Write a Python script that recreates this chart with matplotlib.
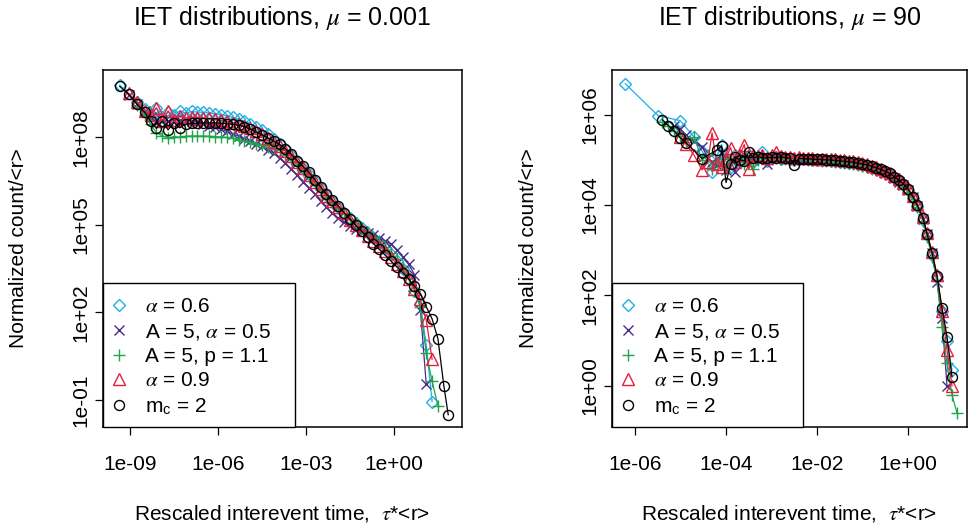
import numpy as np
import matplotlib
matplotlib.use("Agg")
import matplotlib.pyplot as plt
from matplotlib.lines import Line2D
from matplotlib.patches import Rectangle

plt.rcParams['font.family'] = ['Liberation Sans', 'DejaVu Sans']
plt.rcParams['mathtext.fontset'] = 'stix'

# ---- data (log10 of rescaled time and normalized count) ----
# left panel, mu = 0.001
left_x = [-9.35, -9.05, -8.75, -8.5, -8.3, -8.1, -7.9, -7.7, -7.5, -7.3,
          -7.1, -6.9, -6.7, -6.5, -6.3, -6.1, -5.9, -5.7, -5.5, -5.3,
          -5.1, -4.9, -4.7, -4.5, -4.3, -4.1, -3.9, -3.7, -3.5, -3.3,
          -3.1, -2.9, -2.7, -2.5, -2.3, -2.1, -1.9, -1.7, -1.5, -1.3,
          -1.1, -0.9, -0.7, -0.5, -0.3, -0.1, 0.1, 0.3, 0.5, 0.7,
          0.9, 1.1, 1.3, 1.5, 1.7, 1.85]
nan = np.nan
left_alpha06 = [9.78, nan, 9.2, 8.95, 8.8, 9.0, 8.7, 8.85, 8.75, 8.9,
                8.82, 8.88, 8.86, 8.85, 8.83, 8.8, 8.77, 8.73, 8.68, 8.62,
                8.55, 8.46, 8.35, 8.23, 8.1, 7.95, 7.78, 7.6, 7.4, 7.18,
                6.96, 6.74, 6.5, 6.26, 6.03, 5.82, 5.62, 5.42, 5.23, 5.05,
                4.88, 4.72, 4.56, 4.39, 4.2, 4.0, 3.77, 3.5, 3.15, 2.75,
                2.3, 0.9, -1.05, nan, nan, nan]
left_A5_alpha05 = [nan, 9.44, 9.15, 8.9, 8.7, 8.5, 8.6, 8.55, 8.6, 8.58,
                   8.6, 8.57, 8.52, 8.46, 8.4, 8.34, 8.27, 8.2, 8.12, 8.03,
                   7.94, 7.86, 7.78, 7.7, 7.57, 7.45, 7.28, 7.1, 6.9, 6.7,
                   6.48, 6.27, 6.05, 5.8, 5.6, 5.4, 5.22, 5.08, 4.96, 4.86,
                   4.78, 4.72, 4.65, 4.56, 4.46, 4.34, 4.15, 3.9, 3.65, 3.3,
                   2.1, -0.45, nan, nan, nan, nan]
left_A5_p11 = [nan, nan, 9.1, 8.75, 8.45, 8.15, 8.05, 7.98, 8.02, 8.0,
               8.03, 8.04, 8.04, 8.04, 8.03, 8.02, 8.01, 7.99, 7.96, 7.92,
               7.87, 7.82, 7.77, 7.72, 7.66, 7.6, 7.55, 7.4, 7.25, 7.06,
               6.86, 6.65, 6.42, 6.18, 5.96, 5.76, 5.57, 5.39, 5.21, 5.05,
               4.9, 4.75, 4.6, 4.43, 4.25, 4.05, 3.82, 3.54, 3.18, 2.75,
               2.2, 0.6, -0.35, -1.2, nan, nan]
left_alpha09 = [nan, 9.5, 9.2, 8.9, 8.75, 9.0, 8.55, 8.9, 8.6, 8.72,
                8.66, 8.68, 8.67, 8.66, 8.64, 8.61, 8.58, 8.55, 8.5, 8.45,
                8.38, 8.3, 8.2, 8.1, 7.98, 7.85, 7.7, 7.53, 7.35, 7.14,
                6.93, 6.71, 6.47, 6.23, 6.0, 5.8, 5.6, 5.39, 5.18, 4.99,
                4.81, 4.63, 4.46, 4.28, 4.09, 3.89, 3.67, 3.43, 3.15, 2.82,
                2.45, 1.75, 0.4, nan, nan, nan]
left_mc2 = [9.74, 9.48, 9.12, 8.85, 8.55, 8.3, 8.55, 8.25, 8.5, 8.32,
            8.45, 8.47, 8.48, 8.49, 8.49, 8.49, 8.48, 8.46, 8.44, 8.41,
            8.36, 8.28, 8.18, 8.08, 7.98, 7.88, 7.75, 7.6, 7.42, 7.2,
            7.0, 6.8, 6.55, 6.3, 6.05, 5.85, 5.65, 5.42, 5.2, 4.98,
            4.78, 4.57, 4.36, 4.16, 3.96, 3.76, 3.56, 3.36, 3.15, 2.9,
            2.64, 2.2, 1.78, 1.1, -0.5, -1.5]

# right panel, mu = 90
right_x = [-6.22, -5.5, -5.4, -5.27, -5.15, -5.01, -4.88, -4.7, -4.53, -4.4,
           -4.31, -4.2, -4.1, -4.0, -3.9, -3.8, -3.7, -3.6, -3.5,
           -3.4, -3.3, -3.2, -3.1, -3.0, -2.9, -2.8, -2.7, -2.6, -2.5,
           -2.4, -2.3, -2.2, -2.1, -2.0, -1.9, -1.8, -1.7, -1.6, -1.5,
           -1.4, -1.3, -1.2, -1.1, -1.0, -0.9, -0.8, -0.7, -0.6, -0.5,
           -0.4, -0.3, -0.2, -0.1, 0.0,
           0.11, 0.2, 0.33, 0.42, 0.53, 0.64, 0.75, 0.86, 0.97, 1.08]
right_alpha06 = [6.69, 5.98, nan, nan, nan, 5.87, nan, 5.5, 5.2, nan,
                 4.74, 5.1, 5.34, 4.95, 4.85, 5.12, 4.95, 5.05, 5.1,
                 4.95, 5.05, 5.18, 4.98, 5.04, 5.06, 5.03, 5.04, 5.02, 5.0,
                 5.02, 5.02, 5.01, 5.0, 5.0, 4.99, 4.99, 4.98, 4.97, 4.96,
                 4.95, 4.94, 4.93, 4.91, 4.89, 4.87, 4.84, 4.81, 4.77, 4.73,
                 4.68, 4.61, 4.53, 4.45, 4.33,
                 4.16, 3.98, 3.68, 3.33, 2.9, 2.4, 1.65, 1.0, 0.35, nan]
right_A5_alpha05 = [nan, nan, nan, nan, 5.75, 5.68, 5.55, 5.42, 5.29, 5.05,
                    4.95, 4.88, 5.15, 4.78, 5.0, 4.74, 5.05, 4.95, 5.05,
                    5.0, 5.1, 5.02, 4.92, 5.05, 5.04, 5.05, 5.03, 5.03, 5.01,
                    5.02, 5.01, 5.01, 5.0, 5.0, 4.99, 4.99, 4.98, 4.97, 4.96,
                    4.95, 4.94, 4.93, 4.91, 4.89, 4.86, 4.83, 4.8, 4.76, 4.72,
                    4.67, 4.6, 4.52, 4.44, 4.33,
                    4.17, 3.99, 3.7, 3.36, 2.93, 2.3, 1.5, 0.0, nan, nan]
right_A5_p11 = [nan, nan, 5.85, 5.75, 5.63, 5.52, 5.4, 5.5, 5.0, 5.1,
                4.8, 4.95, 5.02, 4.8, 5.05, 4.95, 5.06, 4.9, 5.08,
                4.8, 5.0, 5.05, 5.02, 5.03, 5.04, 5.02, 5.03, 5.01, 5.0,
                5.01, 5.01, 5.0, 4.99, 4.99, 4.98, 4.98, 4.97, 4.96, 4.95,
                4.94, 4.93, 4.91, 4.89, 4.87, 4.84, 4.81, 4.78, 4.74, 4.7,
                4.64, 4.57, 4.49, 4.41, 4.3,
                4.13, 3.95, 3.65, 3.3, 2.86, 2.32, 1.3, 0.5, -0.2, -0.6]
right_alpha09 = [nan, nan, nan, nan, nan, 5.5, 5.35, 5.1, 4.78, 4.95,
                 5.6, 4.9, 4.85, 5.05, 5.27, 4.95, 5.1, 5.34, 4.8,
                 5.1, 5.08, 5.12, 5.05, 5.1, 5.18, 5.08, 5.07, 5.06, 5.05,
                 5.06, 5.05, 5.04, 5.04, 5.03, 5.03, 5.02, 5.02, 5.01, 5.0,
                 4.99, 4.98, 4.97, 4.95, 4.93, 4.9, 4.87, 4.84, 4.8, 4.76,
                 4.71, 4.65, 4.57, 4.49, 4.38,
                 4.21, 4.03, 3.74, 3.39, 2.97, 2.46, 1.65, 0.8, 0.0, nan]
right_mc2 = [nan, nan, 5.89, 5.76, 5.65, 5.49, 5.38, nan, 5.03, nan,
             nan, 5.22, 5.31, 4.5, 4.9, 5.07, 5.0, 4.98, 5.18,
             5.05, 5.07, 5.05, 5.04, 5.06, 5.05, 5.07, 5.05, 5.04, 4.88,
             5.03, 5.03, 5.02, 5.02, 5.01, 5.01, 5.0, 5.0, 4.99, 4.98,
             4.97, 4.96, 4.95, 4.93, 4.91, 4.89, 4.86, 4.83, 4.79, 4.75,
             4.7, 4.63, 4.55, 4.47, 4.36,
             4.19, 4.01, 3.72, 3.37, 2.95, 2.44, 1.73, 1.09, 0.2, nan]

labels = [r"$\alpha$ = 0.6", r"A = 5, $\alpha$ = 0.5", "A = 5, p = 1.1",
          r"$\alpha$ = 0.9", r"m$_\mathregular{c}$ = 2"]
colors = ['#1fb1e6', '#4a2c8c', '#1fa64b', '#e5203b', 'black']
markers = ['D', 'x', '+', '^', 'o']
msizes = [6.0, 7.0, 9.0, 9.0, 7.2]

W, H = 969, 526
fig = plt.figure(figsize=(W / 100, H / 100), dpi=100)


def px_axes(x0, y0, x1, y1):
    return fig.add_axes([x0 / W, 1 - y1 / H, (x1 - x0) / W, (y1 - y0) / H])


def draw_panel(ax, xs, series, xlim, ylim, xticks, yticks, mu, box_w):
    x = np.array(xs)
    for ys, c, m, s in zip(series, colors, markers, msizes):
        y = np.array(ys, dtype=float)
        ok = ~np.isnan(y)
        ax.plot(10 ** x[ok], 10 ** y[ok], color=c, lw=0.9, marker=m, ms=s,
                mfc='none', mec=c, mew=1.0)
    ax.set_xscale('log')
    ax.set_yscale('log')
    ax.set_xlim(10 ** xlim[0], 10 ** xlim[1])
    ax.set_ylim(10 ** ylim[0], 10 ** ylim[1])
    ax.minorticks_off()
    ax.set_xticks([10.0 ** k for k in xticks], ['1e%+03d' % k for k in xticks])
    ax.set_yticks([10.0 ** k for k in yticks], ['1e%+03d' % k for k in yticks],
                  rotation=90, va='center')
    ax.tick_params(axis='both', direction='out', length=6, width=0.9,
                   labelsize=15)
    ax.tick_params(axis='x', pad=14)
    ax.tick_params(axis='y', pad=3)
    for sp in ax.spines.values():
        sp.set_linewidth(1.1)

    ax.text(0.5, 1.146, 'IET distributions, $\\mu$ = %s' % mu, transform=ax.transAxes,
            ha='center', va='center', fontsize=18)
    ax.text(0.5, -0.241, 'Rescaled interevent time,  $\\tau$*<r>', transform=ax.transAxes,
            ha='center', va='center', fontsize=15)
    ax.text(-0.235, 0.5, 'Normalized count/<r>', transform=ax.transAxes,
            ha='center', va='center', rotation=90, fontsize=15)

    # legend box drawn by hand, entries laid over it
    ax.add_patch(Rectangle((0, 0), box_w, 0.403, transform=ax.transAxes,
                           facecolor='white', edgecolor='black', lw=1.0, zorder=5,
                           clip_on=False))
    handles = [Line2D([], [], ls='none', marker=m, ms=s, mfc='none', mec=c, mew=1.0)
               for c, m, s in zip(colors, markers, msizes)]
    leg = ax.legend(handles, labels, loc='lower left', bbox_to_anchor=(0, 0),
                    borderaxespad=0, frameon=False,
                    fontsize=15, handlelength=0.5, handletextpad=1.0,
                    labelspacing=0.26, borderpad=0.5)
    leg.set_zorder(6)


axL = px_axes(103, 70, 462, 427)
draw_panel(axL, left_x,
           [left_alpha06, left_A5_alpha05, left_A5_p11, left_alpha09, left_mc2],
           (-9.92, 2.32), (-1.92, 10.30), [-9, -6, -3, 0], [-1, 2, 5, 8], '0.001',
           192 / 359)

axR = px_axes(612, 70, 967, 427)
draw_panel(axR, right_x,
           [right_alpha06, right_A5_alpha05, right_A5_p11, right_alpha09, right_mc2],
           (-6.51, 1.30), (-0.91, 6.99), [-6, -4, -2, 0], [0, 2, 4, 6], '90',
           191 / 355)

fig.savefig('out.png', dpi=100)
